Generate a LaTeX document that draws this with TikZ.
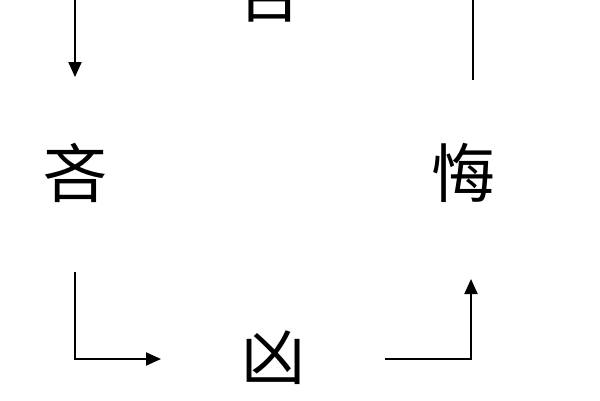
\documentclass[tikz,border=0pt]{standalone}
\usepackage{fontspec}
\newfontfamily\cjk{Noto Sans CJK SC}
\usetikzlibrary{arrows.meta}
\begin{document}
\begin{tikzpicture}[x=1pt,y=-1pt,
  gua/.style={inner sep=0pt,font=\cjk\fontsize{64pt}{64pt}\selectfont},
  arr/.style={line width=2pt,-{Triangle[length=15pt,width=13pt]}}]
\useasboundingbox (0,0) rectangle (600,400);
\clip (0,0) rectangle (600,400);
\fill[white] (0,0) rectangle (600,400);
\node[gua] (ji) at (269,-8) {吉};
\node[gua] (lin) at (75,173) {吝};
\node[gua] (hui) at (463,173) {悔};
\node[gua] (xiong) at (273,358) {凶};
\draw[arr] ([xshift=-75pt]ji.center) -| ([yshift=96pt]lin.center);
\draw[arr] ([yshift=-99pt]lin.center) |- ([xshift=-112pt,yshift=-1pt]xiong.center);
\draw[arr] ([xshift=112pt,yshift=-1pt]xiong.center) -| ([xshift=8pt,yshift=-106pt]hui.center);
\draw[arr] ([xshift=10pt,yshift=93pt]hui.center) |- ([xshift=120pt]ji.center);
\end{tikzpicture}
\end{document}
